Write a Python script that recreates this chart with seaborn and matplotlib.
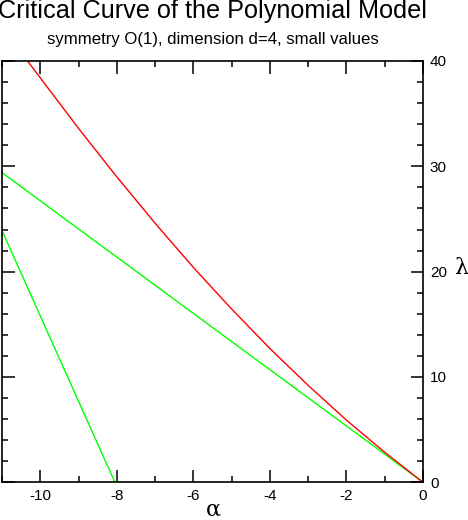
import numpy as np
import pandas as pd
import matplotlib
matplotlib.use("Agg")
import matplotlib.pyplot as plt
import seaborn as sns
from matplotlib.ticker import MultipleLocator

# --- data ---
red_alpha = [-10.6, -10.0, -9.0, -8.0, -7.0, -6.0, -5.0, -4.0, -3.0, -2.0, -1.0, 0.0]
red_lambda = [41.3, 38.4, 33.6, 29.0, 24.6, 20.4, 16.45, 12.7, 9.2, 5.9, 2.85, 0.0]

green1_alpha = [-11.0, 0.0]
green1_lambda = [29.4, 0.0]

green2_alpha = [-11.0, -8.05]
green2_lambda = [23.9, 0.0]

title = "Critical Curve of the Polynomial Model"
subtitle = "symmetry O(1), dimension d=4, small values"
xlabel = "α"
ylabel = "λ"

sns.set_style("ticks")
plt.rcParams['font.family'] = ['Liberation Sans', 'DejaVu Sans']
plt.rcParams['axes.unicode_minus'] = False
plt.rcParams['text.color'] = 'black'
plt.rcParams['xtick.color'] = 'black'
plt.rcParams['ytick.color'] = 'black'

fig = plt.figure(figsize=(4.68, 5.2), dpi=100)
ax = fig.add_axes([2/468, 37.7/520, 421/468, 421.3/520])

df_r = pd.DataFrame({"alpha": red_alpha, "lam": red_lambda})
df_g1 = pd.DataFrame({"alpha": green1_alpha, "lam": green1_lambda})
df_g2 = pd.DataFrame({"alpha": green2_alpha, "lam": green2_lambda})

sns.lineplot(data=df_g1, x="alpha", y="lam", sort=False, color="#00ff00", lw=1.0, ax=ax)
sns.lineplot(data=df_g2, x="alpha", y="lam", sort=False, color="#00ff00", lw=1.0, ax=ax)
sns.lineplot(data=df_r, x="alpha", y="lam", sort=False, color="#ff0000", lw=1.0, ax=ax)

ax.set_xlim(-11, 0)
ax.set_ylim(0, 40)
ax.xaxis.set_major_locator(MultipleLocator(2))
ax.xaxis.set_minor_locator(MultipleLocator(1))
ax.yaxis.set_major_locator(MultipleLocator(10))
ax.yaxis.set_minor_locator(MultipleLocator(2))

for s in ax.spines.values():
    s.set_visible(True)
    s.set_linewidth(1.2)
    s.set_color("black")

ax.tick_params(which='both', direction='in', top=True, bottom=True, left=True, right=True,
               labelleft=False, labelright=True, labelbottom=True, labeltop=False,
               width=1.1, color='black', labelcolor='black')
ax.tick_params(which='major', length=9, pad=5, labelsize=11)
ax.tick_params(which='minor', length=4.5)

ax.set_xlabel("")
ax.set_ylabel("")
fig.text(213/468, 1 - 510/520, xlabel, ha='center', va='center', fontsize=16,
         family=['DejaVu Serif'])
fig.text(461/468, 1 - 268/520, ylabel, ha='center', va='center', fontsize=16,
         family=['DejaVu Serif'])

fig.text(213/468, 1 - 18.3/520, title, ha='center', va='baseline', fontsize=18.2)
fig.text(213/468, 1 - 44.3/520, subtitle, ha='center', va='baseline', fontsize=12.1)

fig.savefig("out.png", dpi=100)
